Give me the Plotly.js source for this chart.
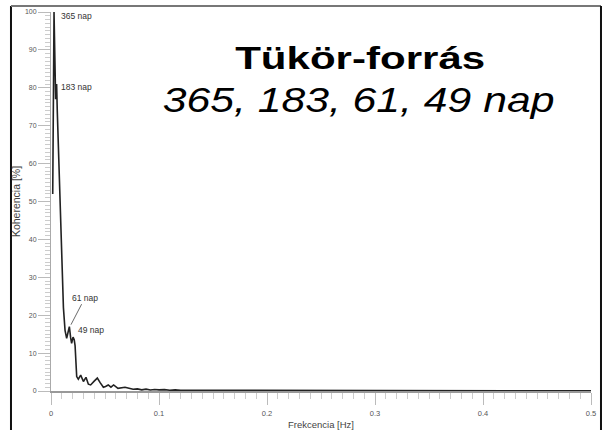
<!DOCTYPE html>
<html>
<head>
<meta charset="utf-8">
<script src="https://cdn.plot.ly/plotly-3.0.1.min.js"></script>
<style>
  html, body { margin: 0; padding: 0; background: #fff; }
  #chart { width: 606px; height: 430px; }
</style>
</head>
<body>
<div id="chart"></div>
<script>
// Coherence spectrum of the mirror spring (frequency in 1/day, coherence in %)
const frequency = [
  0.0016, 0.0028, 0.0043, 0.0052, 0.0058, 0.0068, 0.0085, 0.0100, 0.0115, 0.0130,
  0.0145, 0.0158, 0.0170, 0.0182, 0.0191, 0.0204, 0.0215, 0.0223, 0.0238, 0.0253,
  0.0275, 0.0300, 0.0324, 0.0346, 0.0367, 0.0400, 0.0429, 0.0455, 0.0485, 0.0505,
  0.0530, 0.0555, 0.0580, 0.0620, 0.0685, 0.0760, 0.0800, 0.0840, 0.0880, 0.0920,
  0.0960, 0.1000, 0.1050, 0.1100, 0.1150, 0.1200, 0.1300, 0.1400, 0.1500, 0.1700,
  0.2000, 0.2500, 0.3000, 0.3500, 0.4000, 0.4500, 0.5000
];
const coherence = [
  52, 100, 77, 81, 74, 64, 46, 31, 22, 16,
  13.9, 15.5, 17, 14, 12.6, 14.2, 13.5, 12, 3.8, 3.1,
  4.2, 2.5, 3.6, 1.8, 1.6, 2.6, 3.4, 2.2, 1.0, 1.2,
  1.6, 1.0, 1.6, 0.7, 1.0, 0.45, 0.55, 0.3, 0.5, 0.25,
  0.4, 0.3, 0.35, 0.2, 0.3, 0.2, 0.2, 0.15, 0.15, 0.1,
  0.08, 0.06, 0.05, 0.05, 0.04, 0.04, 0.04
];

// Period labels placed next to the peaks
const peakLabels = ['365 nap', '183 nap', '61 nap', '49 nap'];
const peakX = [0.0078, 0.0078, 0.0185, 0.0228];
const peakY = [98.9, 80.2, 17.5, 16.1];

const xTickVals = [0, 0.1, 0.2, 0.3, 0.4, 0.5];
const xTickText = ['0', '0.1', '0.2', '0.3', '0.4', '0.5'];

const titleMain = 'Tükör-forrás';
const titleSub = '365, 183, 61, 49 nap';

const FONT = 'Liberation Sans, Arial, sans-serif';

const trace = {
  x: frequency,
  y: coherence,
  type: 'scatter',
  mode: 'lines',
  line: { color: '#222', width: 1.6 },
  cliponaxis: false,
  hoverinfo: 'skip'
};

const labelAnnotations = peakLabels.map((t, i) => {
  const a = {
    x: peakX[i], y: peakY[i], xref: 'x', yref: 'y',
    text: t, showarrow: false, xanchor: 'left', yanchor: 'middle',
    font: { family: FONT, size: 8.5, color: '#333' }
  };
  if (t === '61 nap') {
    a.showarrow = true;
    a.arrowhead = 0;
    a.arrowwidth = 0.8;
    a.arrowcolor = '#444';
    a.ax = 14;
    a.ay = -27;
    a.xanchor = 'center';
  }
  return a;
});

// Headline text; the lettering is set wide, so each line gets a horizontal stretch below
const titleStretch = [1.357, 1.22];
const titleAnnotations = [
  {
    x: 0.572, y: 0.876, xref: 'paper', yref: 'paper',
    text: '<b>' + titleMain + '</b>', showarrow: false,
    xanchor: 'center', yanchor: 'middle',
    font: { family: FONT, size: 31, color: '#000' }
  },
  {
    x: 0.569, y: 0.768, xref: 'paper', yref: 'paper',
    text: '<i>' + titleSub + '</i>', showarrow: false,
    xanchor: 'center', yanchor: 'middle',
    font: { family: FONT, size: 35, color: '#000', style: 'italic' }
  }
];

// Page frame: left, top and right border lines
const frame = [
  { type: 'line', xref: 'paper', yref: 'paper', x0: -0.0741, x1: -0.0741, y0: 1.0158, y1: -0.12,
    line: { color: '#111', width: 2 } },
  { type: 'line', xref: 'paper', yref: 'paper', x0: -0.0741, x1: 1.0185, y0: 1.0158, y1: 1.0158,
    line: { color: '#777', width: 2 } },
  { type: 'line', xref: 'paper', yref: 'paper', x0: 1.0185, x1: 1.0185, y0: 1.0158, y1: -0.12,
    line: { color: '#111', width: 2 } }
];

const layout = {
  width: 606,
  height: 430,
  autosize: false,
  margin: { l: 51, r: 15, t: 12, b: 39, pad: 0 },
  paper_bgcolor: '#fff',
  plot_bgcolor: '#fff',
  showlegend: false,
  xaxis: {
    range: [0, 0.5],
    tickmode: 'array',
    tickvals: xTickVals,
    ticktext: xTickText,
    ticks: 'outside',
    ticklen: 12,
    tickwidth: 1,
    tickcolor: '#bbb',
    showline: true,
    linecolor: '#999',
    linewidth: 1.5,
    showgrid: false,
    zeroline: false,
    minor: { dtick: 0.01, ticks: 'outside', ticklen: 6, tickcolor: '#ccc', showgrid: false },
    tickfont: { family: FONT, size: 7.5, color: '#555' },
    ticklabelstandoff: 2,
    title: { text: 'Frekcencia [Hz]', font: { family: FONT, size: 9.5, color: '#444' }, standoff: 7 },
    fixedrange: true
  },
  yaxis: {
    range: [0, 100],
    dtick: 10,
    ticks: 'outside',
    ticklen: 12,
    tickwidth: 1,
    tickcolor: '#bbb',
    showline: true,
    linecolor: '#aaa',
    linewidth: 1,
    showgrid: false,
    zeroline: false,
    minor: { dtick: 1, ticks: 'outside', ticklen: 5, tickcolor: '#ccc', showgrid: false },
    tickfont: { family: FONT, size: 7, color: '#555' },
    title: { text: 'Koherencia [%]', font: { family: FONT, size: 10.5, color: '#444' }, standoff: 2 },
    fixedrange: true
  },
  shapes: frame,
  annotations: labelAnnotations.concat(titleAnnotations)
};

Plotly.newPlot('chart', [trace], layout, { displayModeBar: false, staticPlot: true }).then(gd => {
  const groups = gd.querySelectorAll('.annotation');
  const first = labelAnnotations.length;
  titleStretch.forEach((s, i) => {
    const g = groups[first + i];
    if (!g) return;
    const txt = g.querySelector('text');
    if (!txt) return;
    txt.style.transformBox = 'fill-box';
    txt.style.transformOrigin = '50% 50%';
    txt.style.transform = 'scaleX(' + s + ')';
  });
});
</script>
</body>
</html>
